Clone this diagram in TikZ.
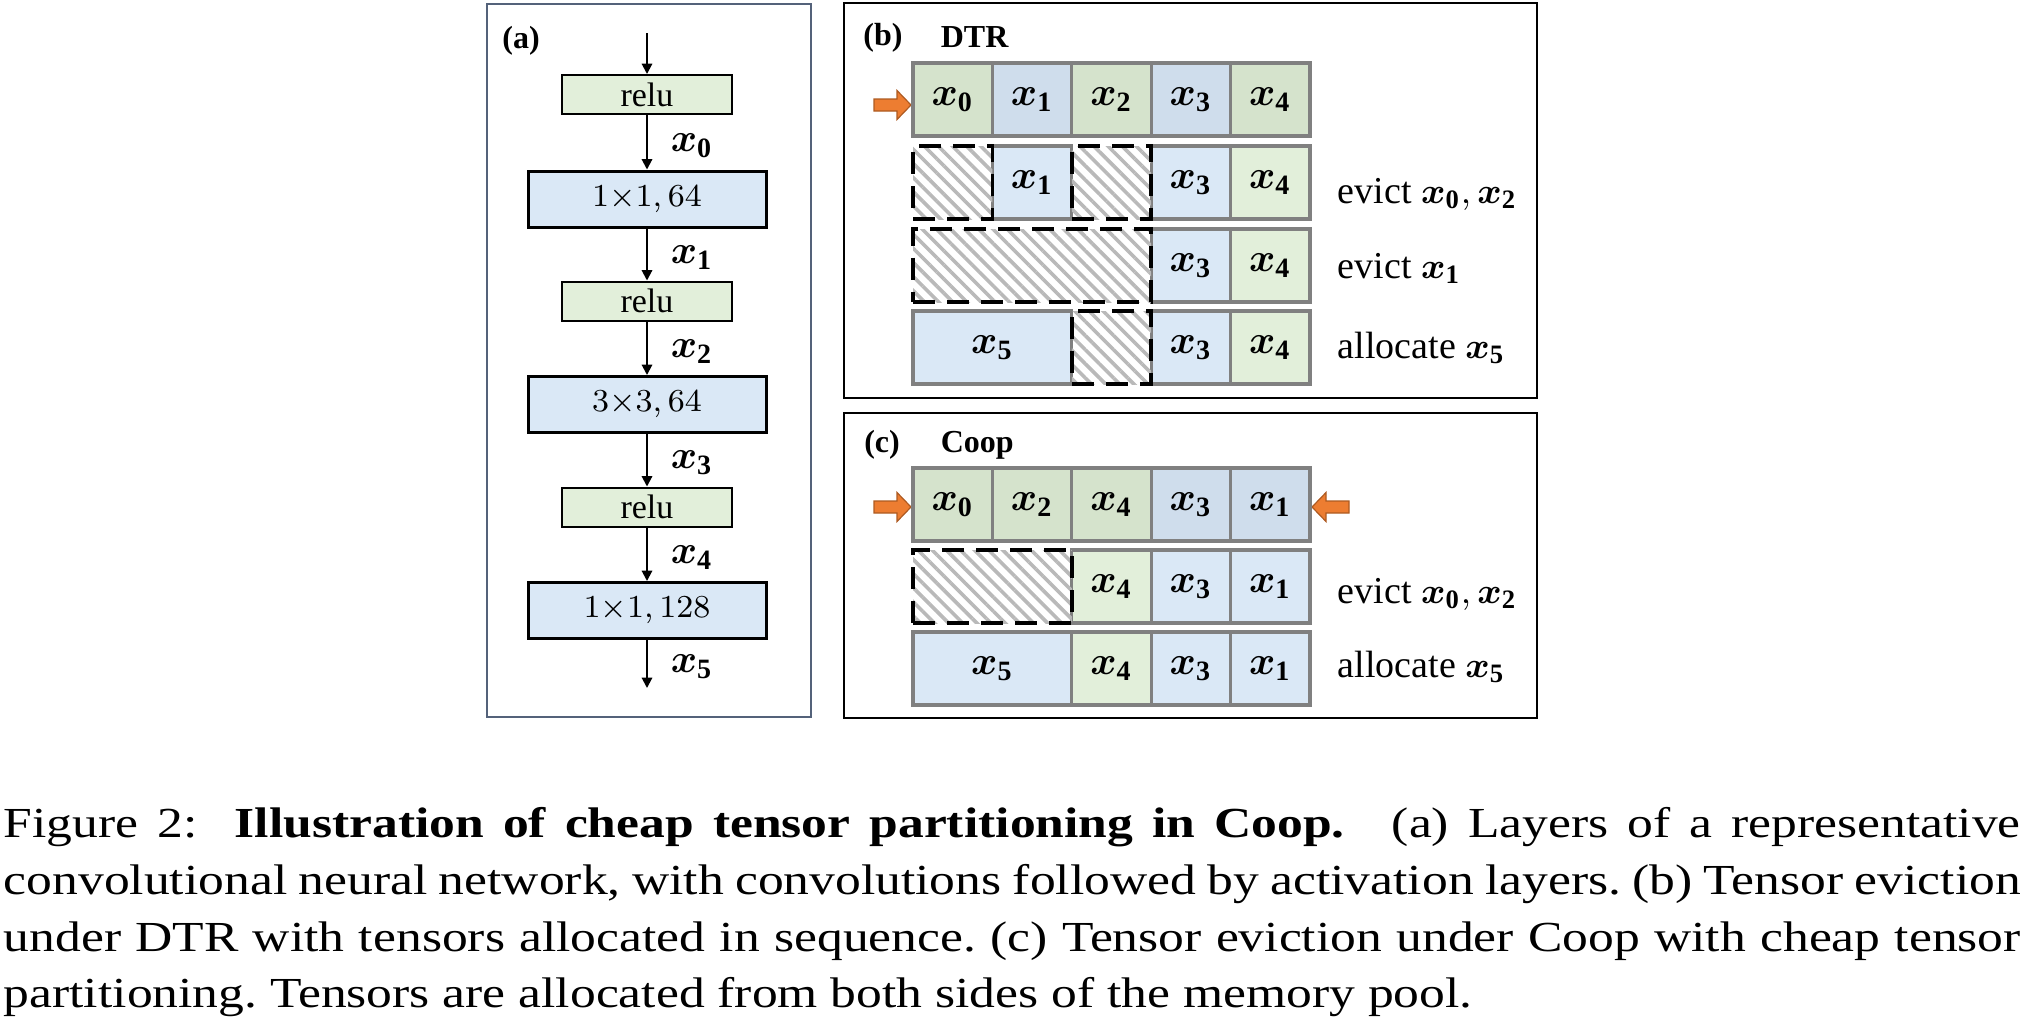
\documentclass[tikz,border=0pt]{standalone}
\usepackage{amsmath}
\usepackage{bm}
\usepackage{fontspec}
\setmainfont{Liberation Serif}
\newfontfamily\capfont[FakeStretch=1.205]{Liberation Serif}
\usetikzlibrary{arrows.meta,patterns.meta}
\definecolor{gA}{RGB}{213,227,204}
\definecolor{bA}{RGB}{207,221,236}
\definecolor{gB}{RGB}{226,239,218}
\definecolor{bB}{RGB}{218,232,246}
\definecolor{cellline}{RGB}{128,128,128}
\definecolor{hatchc}{RGB}{185,185,185}
\definecolor{aframe}{RGB}{84,98,122}
\definecolor{orangeF}{RGB}{237,125,49}
\definecolor{orangeD}{RGB}{174,90,33}
\newcommand{\xv}[1]{\bm{x}_{\mathbf{#1}}}
\begin{document}
\begin{tikzpicture}[x=0.25pt,y=-0.25pt,
  flow/.style={line width=0.5pt,-{Triangle[length=2.6pt,width=2.6pt]}},
  relubox/.style={draw=black,line width=0.5pt,fill=gB,minimum width=42.5pt,minimum height=9.75pt,inner sep=0pt,font=\fontsize{8.5}{10}\selectfont},
  convbox/.style={draw=black,line width=0.75pt,fill=bB,minimum width=59.5pt,minimum height=14pt,inner sep=0pt,font=\fontsize{8}{10}\selectfont},
  xlab/.style={anchor=west,inner sep=0pt,font=\fontsize{10}{11}\selectfont},
  aframe/.style={draw=aframe,line width=0.65pt},
  bframe/.style={draw=black,line width=0.6pt},
  tag/.style={inner sep=0pt,font=\fontsize{8}{9}\selectfont\bfseries},
  cell/.style={draw=cellline,line width=0.8pt,minimum width=19.85pt,minimum height=18.25pt,inner sep=0pt,font=\fontsize{10}{11}\selectfont},
  hcell/.style={draw=black,line width=0.9pt,dash pattern=on 5.5pt off 3pt,pattern={Lines[angle=-45,distance=2.5pt,line width=0.9pt]},pattern color=hatchc,minimum width=19.85pt,minimum height=18.25pt,inner sep=0pt},
  dbl/.style={minimum width=39.7pt},
  trp/.style={minimum width=59.55pt},
  rlab/.style={anchor=base west,inner sep=0pt,font=\fontsize{9.5}{11}\selectfont},
  oarrow/.style={fill=orangeF,draw=orangeD,line width=0.3pt},
  capt/.style={anchor=base west,inner sep=0pt,font=\capfont\fontsize{10.7}{12}\selectfont}
]
\useasboundingbox (0,0) rectangle (2023,1018);
\frenchspacing
% ---------------- panel (a)
\draw[aframe] (487,4) rectangle (811,717);
\node[tag] (ta) at (521,41) {(a)};
\coordinate (top) at (647,33);
\coordinate (bot) at (647,688);
\node[relubox] (r1) at (647,94.5) {relu};
\node[convbox] (c1) at (647,199) {$1{\times}1, 64$};
\node[relubox] (r2) at (647,301) {relu};
\node[convbox] (c2) at (647,404.5) {$3{\times}3, 64$};
\node[relubox] (r3) at (647,507) {relu};
\node[convbox] (c3) at (647,610.5) {$1{\times}1, 128$};
\draw[flow] (top) -- (r1);
\draw[flow] (r1) -- (c1);
\draw[flow] (c1) -- (r2);
\draw[flow] (r2) -- (c2);
\draw[flow] (c2) -- (r3);
\draw[flow] (r3) -- (c3);
\draw[flow] (c3) -- (bot);
\node[xlab] (l0) at (670,146) {$\xv0$};
\node[xlab] (l1) at (670,258) {$\xv1$};
\node[xlab] (l2) at (670,352) {$\xv2$};
\node[xlab] (l3) at (670,463) {$\xv3$};
\node[xlab] (l4) at (670,558) {$\xv4$};
\node[xlab] (l5) at (670,667) {$\xv5$};
% ---------------- panel (b)
\draw[bframe] (844,3) rectangle (1537,398);
\node[tag] (tb) at (883,37.5) {(b)};
\node[tag,anchor=west] (tdtr) at (940,37.5) {DTR};
\draw[oarrow,shift={(911,105)}] (-37,-6) -- (-14,-6) -- (-14,-14.5) -- (0,0) -- (-14,14.5) -- (-14,6) -- (-37,6) -- cycle;
% row 1
\node[cell,fill=gA] (b1a) at (952.7,99.5) {$\xv0$};
\node[cell,fill=bA] (b1b) at (1032.1,99.5) {$\xv1$};
\node[cell,fill=gA] (b1c) at (1111.5,99.5) {$\xv2$};
\node[cell,fill=bA] (b1d) at (1190.9,99.5) {$\xv3$};
\node[cell,fill=gA] (b1e) at (1270.3,99.5) {$\xv4$};
% row 2
\node[cell,fill=bB] (b2b) at (1032.1,182.5) {$\xv1$};
\node[cell,fill=bB] (b2d) at (1190.9,182.5) {$\xv3$};
\node[cell,fill=gB] (b2e) at (1270.3,182.5) {$\xv4$};
\node[hcell] (b2a) at (952.7,182.5) {};
\node[hcell] (b2c) at (1111.5,182.5) {};
\node[rlab] (e1) at (1337,203) {evict $\xv0, \xv2$};
% row 3
\node[cell,fill=bB] (b3d) at (1190.9,265.5) {$\xv3$};
\node[cell,fill=gB] (b3e) at (1270.3,265.5) {$\xv4$};
\node[hcell,trp] (b3a) at (1032.1,265.5) {};
\node[rlab] (e2) at (1337,278) {evict $\xv1$};
% row 4
\node[cell,dbl,fill=bB] (b4a) at (992.4,347.5) {$\xv5$};
\node[cell,fill=bB] (b4d) at (1190.9,347.5) {$\xv3$};
\node[cell,fill=gB] (b4e) at (1270.3,347.5) {$\xv4$};
\node[hcell] (b4c) at (1111.5,347.5) {};
\node[rlab] (e3) at (1337,358) {allocate $\xv5$};
% ---------------- panel (c)
\draw[bframe] (844,413) rectangle (1537,718);
\node[tag] (tc) at (882,445) {(c)};
\node[tag,anchor=west] (tcoop) at (940,445) {Coop};
\draw[oarrow,shift={(911,507)}] (-37,-6) -- (-14,-6) -- (-14,-14.5) -- (0,0) -- (-14,14.5) -- (-14,6) -- (-37,6) -- cycle;
\draw[oarrow,shift={(1312,507)},xscale=-1] (-37,-6) -- (-14,-6) -- (-14,-14.5) -- (0,0) -- (-14,14.5) -- (-14,6) -- (-37,6) -- cycle;
% row 1
\node[cell,fill=gA] (c1a) at (952.7,504.5) {$\xv0$};
\node[cell,fill=gA] (c1b) at (1032.1,504.5) {$\xv2$};
\node[cell,fill=gA] (c1c) at (1111.5,504.5) {$\xv4$};
\node[cell,fill=bA] (c1d) at (1190.9,504.5) {$\xv3$};
\node[cell,fill=bA] (c1e) at (1270.3,504.5) {$\xv1$};
% row 2
\node[cell,fill=gB] (c2c) at (1111.5,586.5) {$\xv4$};
\node[cell,fill=bB] (c2d) at (1190.9,586.5) {$\xv3$};
\node[cell,fill=bB] (c2e) at (1270.3,586.5) {$\xv1$};
\node[hcell,dbl] (c2a) at (992.4,586.5) {};
\node[rlab] (e4) at (1337,603) {evict $\xv0, \xv2$};
% row 3
\node[cell,dbl,fill=bB] (c3a) at (992.4,668.5) {$\xv5$};
\node[cell,fill=gB] (c3c) at (1111.5,668.5) {$\xv4$};
\node[cell,fill=bB] (c3d) at (1190.9,668.5) {$\xv3$};
\node[cell,fill=bB] (c3e) at (1270.3,668.5) {$\xv1$};
\node[rlab] (e5) at (1337,677) {allocate $\xv5$};
% ---------------- caption
\node[capt] (cap1) at (3,837) {\makebox[504.25pt][s]{Figure 2:\hspace{4.5pt} \textbf{Illustration of cheap tensor partitioning in Coop.}\hspace{7pt} (a) Layers of a representative}};
\node[capt] (cap2) at (3,894) {\makebox[504.25pt][s]{convolutional neural network, with convolutions followed by activation layers. (b) Tensor eviction}};
\node[capt] (cap3) at (3,951) {\makebox[504.25pt][s]{under DTR with tensors allocated in sequence. (c) Tensor eviction under Coop with cheap tensor}};
\node[capt] (cap4) at (3,1007) {partitioning. Tensors are allocated from both sides of the memory pool.};
\end{tikzpicture}
\end{document}
